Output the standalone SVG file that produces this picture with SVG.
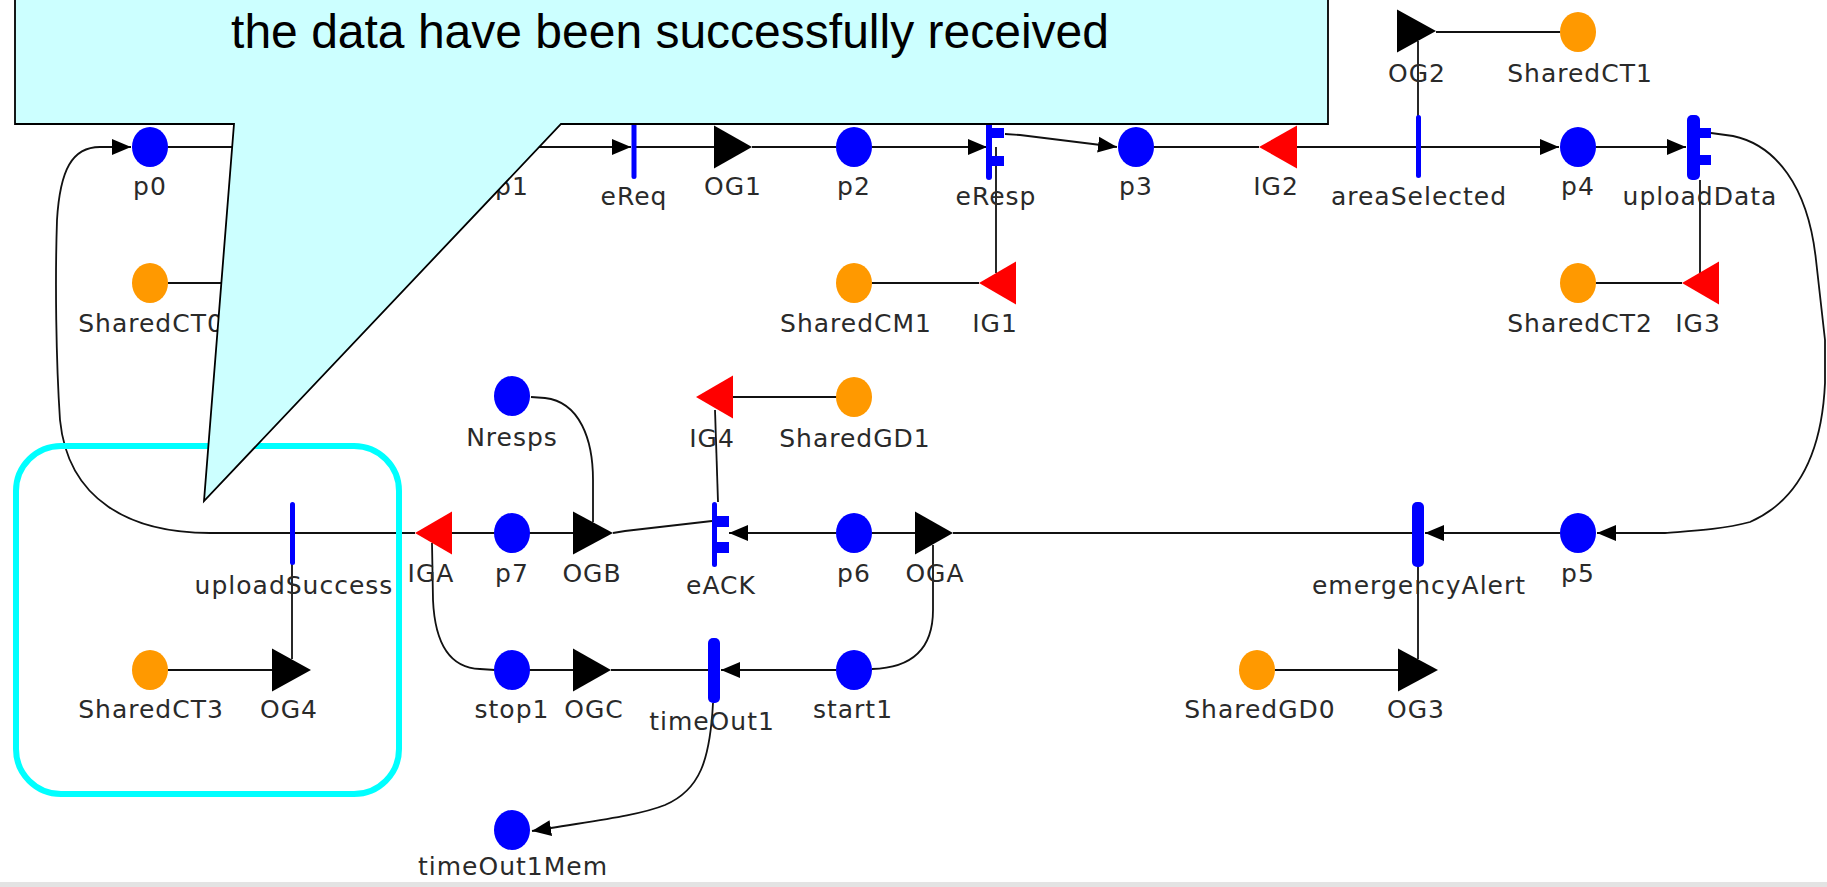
<svg xmlns="http://www.w3.org/2000/svg" width="1827" height="887" viewBox="0 0 1827 887">
<defs>
<style>
.pl{fill:#0000FF}
.sh{fill:#FF9900}
.og{fill:#000000}
.ig{fill:#FF0000}
.tr{fill:#0000FF}
.lbl{font-family:"DejaVu Sans",sans-serif;font-size:25px;letter-spacing:1px;fill:#2a2a2a;text-anchor:middle}
.c{fill:none;stroke:#111;stroke-width:1.8}
.a{marker-end:url(#arr)}
.call{font-family:"Liberation Sans",Arial,sans-serif;font-size:48px;fill:#000;text-anchor:middle}
</style>
<marker id="arr" markerUnits="userSpaceOnUse" markerWidth="20" markerHeight="18" refX="19" refY="8" orient="auto" viewBox="0 0 20 16">
<path d="M0,0 L19,8 L0,16 z" fill="#000"/>
</marker>
</defs>
<rect x="0" y="0" width="1827" height="887" fill="#ffffff"/>
<rect x="0" y="882" width="1827" height="5" fill="#e3e3e3"/>

<g id="connectors">
<path class="c" d="M168,147 L494,147"/>
<path class="c a" d="M530,147 L631,147"/>
<path class="c" d="M634,147 L714,147"/>
<path class="c" d="M752,147 L836,147"/>
<path class="c a" d="M872,147 L987,147"/>
<path class="c a" d="M1005,134 L1020,135 L1117,147"/>
<path class="c" d="M1154,147 L1259,147"/>
<path class="c" d="M1297,147 L1418,147"/>
<path class="c a" d="M1418,147 L1559,147"/>
<path class="c a" d="M1596,147 L1686,147"/>
<path class="c" d="M1418,41 L1418,116"/>
<path class="c" d="M1560,32 L1436,32"/>
<path class="c" d="M1700,180 L1700,273"/>
<path class="c" d="M1596,283 L1682,283"/>
<path class="c" d="M996,147 L996,273"/>
<path class="c" d="M872,283 L979,283"/>
<path class="c" d="M168,283 L300,283"/>
<path class="c a" d="M1711,133 L1733,136 C1775,145 1808,185 1816,260 L1825,340 L1825,383 C1822,450 1800,500 1750,522 C1720,530 1690,531 1665,533 L1597,533"/>
<path class="c a" d="M1560,533 L1425,533"/>
<path class="c" d="M1412,533 L953,533"/>
<path class="c" d="M1418,567 L1418,659"/>
<path class="c" d="M1275,670 L1398,670"/>
<path class="c" d="M872,533 L915,533"/>
<path class="c a" d="M836,533 L729,533"/>
<path class="c" d="M613,533 L625,531 L712,521"/>
<path class="c" d="M715,410 L718,502"/>
<path class="c" d="M837,397 L733,397"/>
<path class="c" d="M531,397 L545,398 C580,402 593,440 593,480 L593,522"/>
<path class="c" d="M452,533 L573,533"/>
<path class="c" d="M292,533 L415,533"/>
<path class="c a" d="M292,533 L210,533 C130,533 68,500 60,420 C56,360 55,280 57,220 C60,170 72,147 100,147 L131,147"/>
<path class="c" d="M292,533 L292,659"/>
<path class="c" d="M168,670 L272,670"/>
<path class="c" d="M432,543 L433,600 C435,645 450,668 480,669 L495,670"/>
<path class="c" d="M529,670 L573,670"/>
<path class="c" d="M611,670 L708,670"/>
<path class="c a" d="M836,670 L721,670"/>
<path class="c" d="M933,545 L933,610 C933,650 910,668 872,669"/>
<path class="c a" d="M713,703 C710,760 700,790 665,805 C640,815 600,820 551,828 L532,831"/>
</g>

<g id="p0"><ellipse class="pl" cx="150" cy="147" rx="18" ry="20"/><text class="lbl" x="150" y="195">p0</text></g>
<g id="p1"><ellipse class="pl" cx="512" cy="147" rx="18" ry="20"/><text class="lbl" x="512" y="195">p1</text></g>
<g id="eReq"><rect class="tr" x="631.5" y="116" width="5" height="63" rx="2.5"/><text class="lbl" x="634" y="205">eReq</text></g>
<g id="OG1"><polygon class="og" points="714,125.5 752,147 714,168.5"/><text class="lbl" x="733" y="195">OG1</text></g>
<g id="p2"><ellipse class="pl" cx="854" cy="147" rx="18" ry="20"/><text class="lbl" x="854" y="195">p2</text></g>
<g id="eResp"><rect class="tr" x="986" y="116" width="6" height="64" rx="3"/><rect class="tr" x="991" y="128" width="13" height="10"/><rect class="tr" x="991" y="156" width="13" height="10"/><text class="lbl" x="996" y="205">eResp</text></g>
<g id="p3"><ellipse class="pl" cx="1136" cy="147" rx="18" ry="20"/><text class="lbl" x="1136" y="195">p3</text></g>
<g id="IG2"><polygon class="ig" points="1297,125.5 1259,147 1297,168.5"/><text class="lbl" x="1276" y="195">IG2</text></g>
<g id="areaSelected"><rect class="tr" x="1416" y="115" width="5" height="63" rx="2.5"/><text class="lbl" x="1419" y="205">areaSelected</text></g>
<g id="OG2"><polygon class="og" points="1397,9.5 1436,31 1397,52.5"/><text class="lbl" x="1417" y="82">OG2</text></g>
<g id="SharedCT1"><ellipse class="sh" cx="1578" cy="32" rx="18" ry="20"/><text class="lbl" x="1580" y="82">SharedCT1</text></g>
<g id="p4"><ellipse class="pl" cx="1578" cy="147" rx="18" ry="20"/><text class="lbl" x="1578" y="195">p4</text></g>
<g id="uploadData"><rect class="tr" x="1687" y="115" width="13" height="65" rx="5"/><rect class="tr" x="1698" y="128" width="13" height="10"/><rect class="tr" x="1698" y="155" width="13" height="10"/><text class="lbl" x="1700" y="205">uploadData</text></g>
<g id="SharedCT0"><ellipse class="sh" cx="150" cy="283" rx="18" ry="20"/><text class="lbl" x="151" y="332">SharedCT0</text></g>
<g id="SharedCM1"><ellipse class="sh" cx="854" cy="283" rx="18" ry="20"/><text class="lbl" x="856" y="332">SharedCM1</text></g>
<g id="IG1"><polygon class="ig" points="1016,261.5 979,283 1016,304.5"/><text class="lbl" x="995" y="332">IG1</text></g>
<g id="SharedCT2"><ellipse class="sh" cx="1578" cy="283" rx="18" ry="20"/><text class="lbl" x="1580" y="332">SharedCT2</text></g>
<g id="IG3"><polygon class="ig" points="1719,261.5 1682,283 1719,304.5"/><text class="lbl" x="1698" y="332">IG3</text></g>
<g id="Nresps"><ellipse class="pl" cx="512" cy="396" rx="18" ry="20"/><text class="lbl" x="512" y="446">Nresps</text></g>
<g id="IG4"><polygon class="ig" points="733,375.5 696,397 733,418.5"/><text class="lbl" x="712" y="447">IG4</text></g>
<g id="SharedGD1"><ellipse class="sh" cx="854" cy="397" rx="18" ry="20"/><text class="lbl" x="855" y="447">SharedGD1</text></g>
<g id="uploadSuccess"><rect class="tr" x="290" y="502" width="5" height="63" rx="2.5"/><text class="lbl" x="294" y="594">uploadSuccess</text></g>
<g id="IGA"><polygon class="ig" points="452,511.5 415,533 452,554.5"/><text class="lbl" x="431" y="582">IGA</text></g>
<g id="p7"><ellipse class="pl" cx="512" cy="533" rx="18" ry="20"/><text class="lbl" x="512" y="582">p7</text></g>
<g id="OGB"><polygon class="og" points="573,511.5 613,533 573,554.5"/><text class="lbl" x="592" y="582">OGB</text></g>
<g id="eACK"><rect class="tr" x="712" y="502" width="5" height="65" rx="2.5"/><rect class="tr" x="716" y="516" width="13" height="11"/><rect class="tr" x="716" y="542" width="13" height="11"/><text class="lbl" x="721" y="594">eACK</text></g>
<g id="p6"><ellipse class="pl" cx="854" cy="533" rx="18" ry="20"/><text class="lbl" x="854" y="582">p6</text></g>
<g id="OGA"><polygon class="og" points="915,511.5 953,533 915,554.5"/><text class="lbl" x="935" y="582">OGA</text></g>
<g id="emergencyAlert"><rect class="tr" x="1412" y="502" width="12" height="65" rx="5"/><text class="lbl" x="1419" y="594">emergencyAlert</text></g>
<g id="p5"><ellipse class="pl" cx="1578" cy="533" rx="18" ry="20"/><text class="lbl" x="1578" y="582">p5</text></g>
<g id="SharedCT3"><ellipse class="sh" cx="150" cy="670" rx="18" ry="20"/><text class="lbl" x="151" y="718">SharedCT3</text></g>
<g id="OG4"><polygon class="og" points="272,648.5 311,670 272,691.5"/><text class="lbl" x="289" y="718">OG4</text></g>
<g id="stop1"><ellipse class="pl" cx="512" cy="670" rx="18" ry="20"/><text class="lbl" x="512" y="718">stop1</text></g>
<g id="OGC"><polygon class="og" points="573,648.5 611,670 573,691.5"/><text class="lbl" x="594" y="718">OGC</text></g>
<g id="timeOut1"><rect class="tr" x="708" y="638" width="12" height="65" rx="5"/><text class="lbl" x="712" y="730">timeOut1</text></g>
<g id="start1"><ellipse class="pl" cx="854" cy="670" rx="18" ry="20"/><text class="lbl" x="853" y="718">start1</text></g>
<g id="SharedGD0"><ellipse class="sh" cx="1257" cy="670" rx="18" ry="20"/><text class="lbl" x="1260" y="718">SharedGD0</text></g>
<g id="OG3"><polygon class="og" points="1398,648.5 1438,670 1398,691.5"/><text class="lbl" x="1416" y="718">OG3</text></g>
<g id="timeOut1Mem"><ellipse class="pl" cx="512" cy="830" rx="18" ry="20"/><text class="lbl" x="513" y="875">timeOut1Mem</text></g>

<g id="highlight"><rect x="16" y="446" width="383" height="348" rx="45" ry="45" fill="none" stroke="#00FFFF" stroke-width="6"/></g>

<g id="callout">
<path d="M15,-5 L1328,-5 L1328,124 L561,124 L204,501 L234,124 L15,124 Z" fill="#CCFFFF" stroke="#000" stroke-width="1.8" stroke-linejoin="miter"/>
<text class="call" x="670" y="48">the data have been successfully received</text>
</g>
</svg>
